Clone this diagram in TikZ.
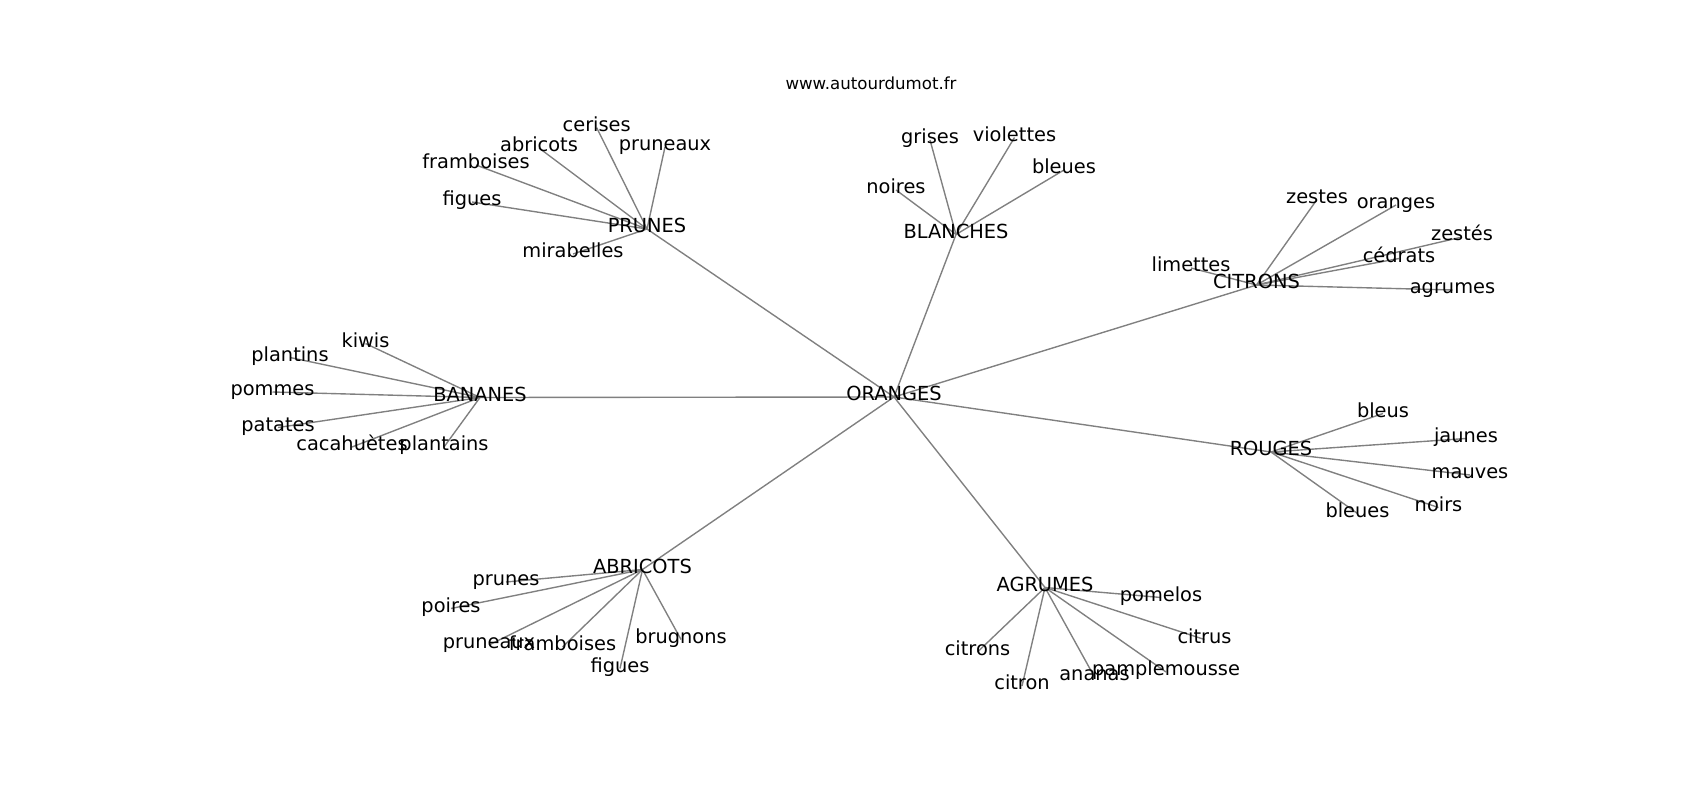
\documentclass[tikz,border=0pt]{standalone}
\usepackage{fontspec}
\setmainfont{DejaVu Sans}
\pgfdeclarelayer{background}
\pgfsetlayers{background,main}
\begin{document}
\begin{tikzpicture}[x=0.01in,y=-0.01in,
  lbl/.style={inner sep=0pt,outer sep=0pt,text height=0.76em,text depth=0.236em,
    font=\fontsize{14pt}{16pt}\selectfont,anchor=center,yshift=-0.02in},
  ttl/.style={inner sep=0pt,anchor=base,font=\fontsize{12pt}{14pt}\selectfont},
  edge/.style={draw=black!50,line width=1pt}]
\useasboundingbox (0,0) rectangle (1700,800);
\node[ttl] (title) at (871,89.5) {www.autourdumot.fr};
% hubs
\node[lbl] (OR) at (894,395) {ORANGES};
\node[lbl] (PR) at (647,227) {PRUNES};
\node[lbl] (BA) at (480,395.5) {BANANES};
\node[lbl] (AB) at (642.5,567.5) {ABRICOTS};
\node[lbl] (AG) at (1045,585.5) {AGRUMES};
\node[lbl] (RO) at (1271,450) {ROUGES};
\node[lbl] (CI) at (1256.5,283) {CITRONS};
\node[lbl] (BL) at (956,232.5) {BLANCHES};
% PRUNES leaves
\node[lbl] (pr1) at (596.7,125.7) {cerises};
\node[lbl] (pr2) at (665,145) {pruneaux};
\node[lbl] (pr3) at (539,146) {abricots};
\node[lbl] (pr4) at (476,163) {framboises};
\node[lbl] (pr5) at (472,200) {figues};
\node[lbl] (pr6) at (573,252) {mirabelles};
% BANANES leaves
\node[lbl] (ba1) at (365.5,341.5) {kiwis};
\node[lbl] (ba2) at (290,355.5) {plantins};
\node[lbl] (ba3) at (272.5,390) {pommes};
\node[lbl] (ba4) at (278,425.5) {patates};
\node[lbl] (ba5) at (352,445) {cacahuètes};
\node[lbl] (ba6) at (444,445) {plantains};
% ABRICOTS leaves
\node[lbl] (ab1) at (506,580) {prunes};
\node[lbl] (ab2) at (451,606.5) {poires};
\node[lbl] (ab3) at (489,643) {pruneaux};
\node[lbl] (ab4) at (562.5,645) {framboises};
\node[lbl] (ab5) at (681,637.5) {brugnons};
\node[lbl] (ab6) at (620,666.5) {figues};
% AGRUMES leaves
\node[lbl] (ag1) at (1161,595.5) {pomelos};
\node[lbl] (ag2) at (1204.5,637.5) {citrus};
\node[lbl] (ag3) at (977.5,650) {citrons};
\node[lbl] (ag4) at (1166,670) {pamplemousse};
\node[lbl] (ag5) at (1094.5,675) {ananas};
\node[lbl] (ag6) at (1022,684) {citron};
% CITRONS leaves
\node[lbl] (ci1) at (1317,197.5) {zestes};
\node[lbl] (ci2) at (1396,203) {oranges};
\node[lbl] (ci3) at (1462,235) {zestés};
\node[lbl] (ci4) at (1399,256.5) {cédrats};
\node[lbl] (ci5) at (1191,266) {limettes};
\node[lbl] (ci6) at (1452.5,288) {agrumes};
% ROUGES leaves
\node[lbl] (ro1) at (1383,411.5) {bleus};
\node[lbl] (ro2) at (1466,436.5) {jaunes};
\node[lbl] (ro3) at (1470,473) {mauves};
\node[lbl] (ro4) at (1438.5,505.5) {noirs};
\node[lbl] (ro5) at (1357.5,511.5) {bleues};
% BLANCHES leaves
\node[lbl] (bl1) at (930,138) {grises};
\node[lbl] (bl2) at (1014.5,135.5) {violettes};
\node[lbl] (bl3) at (1064,168) {bleues};
\node[lbl] (bl4) at (896,188) {noires};
% edges, behind the labels
\begin{pgfonlayer}{background}
\foreach \h in {PR,BA,AB,AG,RO,CI,BL}{\draw[edge] (OR.center) -- (\h.center);}
\foreach \l in {pr1,pr2,pr3,pr4,pr5,pr6}{\draw[edge] (PR.center) -- (\l.center);}
\foreach \l in {ba1,ba2,ba3,ba4,ba5,ba6}{\draw[edge] (BA.center) -- (\l.center);}
\foreach \l in {ab1,ab2,ab3,ab4,ab5,ab6}{\draw[edge] (AB.center) -- (\l.center);}
\foreach \l in {ag1,ag2,ag3,ag4,ag5,ag6}{\draw[edge] (AG.center) -- (\l.center);}
\foreach \l in {ci1,ci2,ci3,ci4,ci5,ci6}{\draw[edge] (CI.center) -- (\l.center);}
\foreach \l in {ro1,ro2,ro3,ro4,ro5}{\draw[edge] (RO.center) -- (\l.center);}
\foreach \l in {bl1,bl2,bl3,bl4}{\draw[edge] (BL.center) -- (\l.center);}
\end{pgfonlayer}
\end{tikzpicture}
\end{document}
